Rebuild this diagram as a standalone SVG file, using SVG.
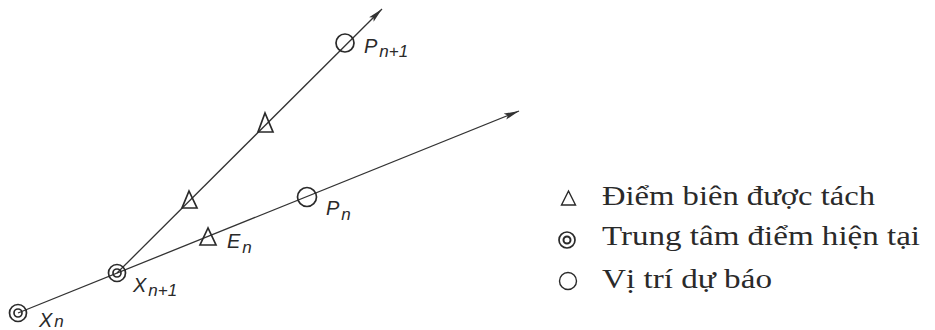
<svg xmlns="http://www.w3.org/2000/svg" width="935" height="330" viewBox="0 0 935 330">
<defs>
<style>
.ln{stroke:#333;stroke-width:1.3;fill:none}
.sym{stroke:#2a2a2a;stroke-width:1.7;fill:none}
.lab{font-family:"Liberation Sans","DejaVu Sans",sans-serif;font-style:italic;fill:#2a2a2a;font-size:20px}
.sub{font-size:17px}
.leg{font-family:"Liberation Serif","DejaVu Serif",serif;fill:#2a2a2a;font-size:27px}
</style>
<marker id="arr" markerWidth="16" markerHeight="8" refX="15" refY="4" orient="auto" markerUnits="userSpaceOnUse">
<path d="M0,0.8 L15,4 L0,7.2 L3,4 Z" fill="#333"/>
</marker>
</defs>
<rect width="935" height="330" fill="#fff"/>
<g id="connectors">
<line class="ln" x1="18" y1="313" x2="519" y2="111" marker-end="url(#arr)"/>
<line class="ln" x1="117" y1="273" x2="382" y2="9" marker-end="url(#arr)"/>
</g>
<g id="Xn"><circle class="sym" cx="18" cy="313" r="8.5"/><circle class="sym" cx="18" cy="313" r="4"/>
<text class="lab" x="39" y="327">X<tspan class="sub" dx="2">n</tspan></text></g>
<g id="Xn1"><circle class="sym" cx="117" cy="273" r="8.5"/><circle class="sym" cx="117" cy="273" r="4"/>
<text class="lab" x="133" y="292">X<tspan class="sub" dx="2" dy="4">n+1</tspan></text></g>
<g id="En"><polygon class="sym" points="208,228 200,245 216,245"/>
<text class="lab" x="227" y="248">E<tspan class="sub" dx="2" dy="5">n</tspan></text></g>
<g id="Pn"><circle class="sym" cx="307" cy="197" r="9.5"/>
<text class="lab" x="326" y="215">P<tspan class="sub" dx="2" dy="5">n</tspan></text></g>
<g id="T1"><polygon class="sym" points="189,191 182,208 197,208"/></g>
<g id="T2"><polygon class="sym" points="265,113 258,132 273,132"/></g>
<g id="Pn1"><circle class="sym" cx="345" cy="43" r="9"/>
<text class="lab" x="364" y="53">P<tspan class="sub" dx="2" dy="4">n+1</tspan></text></g>
<g id="legend">
<polygon points="568.5,191 561.5,205 575.5,205" fill="none" stroke="#2a2a2a" stroke-width="1.4"/>
<text class="leg" x="602" y="205" textLength="273" lengthAdjust="spacingAndGlyphs">Điểm biên được tách</text>
<circle cx="567" cy="240" r="8" fill="none" stroke="#2a2a2a" stroke-width="1.7"/>
<circle cx="567" cy="240" r="3.5" fill="none" stroke="#2a2a2a" stroke-width="2"/>
<text class="leg" x="602" y="245" textLength="318" lengthAdjust="spacingAndGlyphs">Trung tâm điểm hiện tại</text>
<circle cx="568" cy="281" r="8.5" fill="none" stroke="#2a2a2a" stroke-width="1.4"/>
<text class="leg" x="602" y="288" textLength="170" lengthAdjust="spacingAndGlyphs">Vị trí dự báo</text>
</g>
</svg>
